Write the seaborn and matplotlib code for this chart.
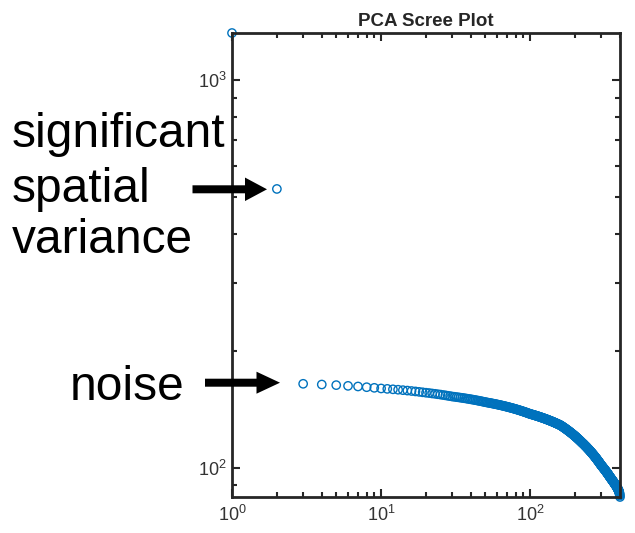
import numpy as np
import pandas as pd
import matplotlib
matplotlib.use("Agg")
import matplotlib.pyplot as plt
from matplotlib.patches import FancyArrow
from matplotlib.ticker import LogLocator
import seaborn as sns

# ---- data (eigenvalues) ----
eigenvalues = [
    1320, 523, 164.5, 163.8, 163.2, 162.5, 161.9, 161.2, 160.6, 160.0,
    159.6, 159.2, 158.8, 158.4, 158.0, 157.6, 157.2, 156.8, 156.4, 156.0,
    155.7, 155.3, 155.0, 154.6, 154.3, 153.9, 153.6, 153.2, 152.9, 152.5,
    152.3, 152.0, 151.8, 151.5, 151.3, 151.0, 150.8, 150.5, 150.3, 150.0,
    149.8, 149.5, 149.3, 149.0, 148.8, 148.5, 148.3, 148.0, 147.8, 147.5,
    147.3, 147.1, 146.9, 146.7, 146.5, 146.3, 146.1, 145.9, 145.7, 145.5,
    145.3, 145.1, 144.9, 144.7, 144.5, 144.3, 144.1, 143.9, 143.7, 143.5,
    143.3, 143.1, 142.9, 142.7, 142.5, 142.3, 142.1, 141.9, 141.7, 141.5,
    141.3, 141.1, 140.9, 140.7, 140.5, 140.3, 140.1, 139.9, 139.7, 139.5,
    139.3, 139.1, 138.9, 138.7, 138.5, 138.3, 138.1, 137.9, 137.7, 137.5,
    137.4, 137.2, 137.1, 136.9, 136.8, 136.6, 136.5, 136.3, 136.2, 136.0,
    135.9, 135.7, 135.6, 135.4, 135.3, 135.1, 135.0, 134.8, 134.7, 134.5,
    134.4, 134.2, 134.1, 133.9, 133.8, 133.6, 133.5, 133.3, 133.2, 133.0,
    132.9, 132.7, 132.6, 132.4, 132.3, 132.1, 132.0, 131.8, 131.7, 131.5,
    131.4, 131.2, 131.1, 130.9, 130.8, 130.6, 130.5, 130.3, 130.2, 130.0,
    129.9, 129.7, 129.6, 129.4, 129.3, 129.1, 129.0, 128.8, 128.7, 128.5,
    128.3, 128.1, 127.9, 127.7, 127.5, 127.3, 127.1, 126.9, 126.7, 126.5,
    126.3, 126.1, 125.9, 125.7, 125.5, 125.3, 125.1, 124.9, 124.7, 124.5,
    124.3, 124.1, 123.9, 123.7, 123.5, 123.3, 123.1, 122.9, 122.7, 122.5,
    122.3, 122.1, 121.9, 121.7, 121.5, 121.3, 121.1, 120.9, 120.7, 120.5,
    120.3, 120.1, 119.9, 119.7, 119.5, 119.3, 119.1, 118.9, 118.7, 118.5,
    118.3, 118.1, 117.9, 117.7, 117.5, 117.3, 117.1, 116.9, 116.7, 116.5,
    116.3, 116.1, 115.9, 115.7, 115.5, 115.4, 115.2, 115.0, 114.8, 114.6,
    114.4, 114.2, 114.0, 113.8, 113.6, 113.5, 113.3, 113.1, 112.9, 112.7,
    112.5, 112.3, 112.1, 111.9, 111.7, 111.6, 111.4, 111.2, 111.0, 110.8,
    110.6, 110.4, 110.2, 110.0, 109.8, 109.7, 109.5, 109.3, 109.1, 108.9,
    108.7, 108.5, 108.3, 108.1, 107.9, 107.8, 107.6, 107.4, 107.2, 107.0,
    106.8, 106.6, 106.4, 106.2, 106.0, 105.9, 105.7, 105.5, 105.3, 105.1,
    104.9, 104.7, 104.5, 104.3, 104.1, 104.0, 103.8, 103.6, 103.4, 103.2,
    103.0, 102.8, 102.6, 102.4, 102.2, 102.1, 101.9, 101.7, 101.5, 101.3,
    101.1, 101.0, 100.8, 100.7, 100.5, 100.4, 100.2, 100.0, 99.9, 99.7,
    99.6, 99.4, 99.3, 99.1, 99.0, 98.8, 98.6, 98.5, 98.3, 98.2,
    98.0, 97.9, 97.7, 97.5, 97.4, 97.2, 97.1, 96.9, 96.8, 96.6,
    96.4, 96.3, 96.1, 96.0, 95.8, 95.6, 95.5, 95.3, 95.2, 95.0,
    94.8, 94.7, 94.5, 94.4, 94.2, 94.1, 93.9, 93.8, 93.6, 93.5,
    93.4, 93.2, 93.1, 92.9, 92.8, 92.6, 92.5, 92.4, 92.2, 92.1,
    92.0, 91.8, 91.7, 91.5, 91.4, 91.2, 91.1, 91.0, 90.8, 90.7,
    90.6, 90.4, 90.3, 90.1, 90.0, 89.8, 89.7, 89.6, 89.4, 89.3,
    89.1, 88.9, 88.8, 88.6, 88.4, 88.3, 88.1, 87.9, 87.8, 87.6,
    87.4, 87.2, 87.0, 86.8, 86.5, 86.2, 85.8, 85.3, 84.7, 84.0,
]
component = list(range(1, len(eigenvalues) + 1))
title_text = "PCA Scree Plot"
signal_label = ["significant", "spatial", "variance"]
noise_label = "noise"

df = pd.DataFrame({"component": component, "eigenvalue": eigenvalues})

# ---- style ----
sns.set_style("white")
plt.rcParams["font.family"] = ["Liberation Sans", "DejaVu Sans"]
plt.rcParams["mathtext.fontset"] = "custom"
plt.rcParams["mathtext.rm"] = "Liberation Sans"
plt.rcParams["mathtext.it"] = "Liberation Sans:italic"
plt.rcParams["mathtext.bf"] = "Liberation Sans:bold"

W, H = 635, 533
fig = plt.figure(figsize=(W / 100, H / 100), dpi=100)
ax = fig.add_axes([232 / W, (H - 497) / H, 388 / W, 464 / H])

blue = "#0072BD"
axcol = "#262626"
sns.scatterplot(data=df, x="component", y="eigenvalue", ax=ax,
                marker="o", s=36, color=blue, linewidth=1.0, legend=False)
coll = ax.collections[0]
coll.set_facecolor("none")
coll.set_edgecolor(blue)
coll.set_clip_on(False)

ax.set_xscale("log")
ax.set_yscale("log")
ax.set_xlim(min(component), max(component))
ax.set_ylim(min(eigenvalues), max(eigenvalues))
ax.xaxis.set_minor_locator(LogLocator(base=10, subs=np.arange(2, 10), numticks=20))
ax.yaxis.set_minor_locator(LogLocator(base=10, subs=np.arange(2, 10), numticks=20))

ax.set_xlabel("")
ax.set_ylabel("")
for sp in ax.spines.values():
    sp.set_visible(True)
    sp.set_color(axcol)
    sp.set_linewidth(2.0)
ax.tick_params(which="both", direction="in", top=True, right=True,
               bottom=True, left=True, color=axcol, width=1.5,
               labelcolor="#333333", labelsize=13)
ax.tick_params(which="major", length=5.5)
ax.tick_params(which="minor", length=3.5)
ax.tick_params(axis="x", which="major", pad=6)
ax.tick_params(axis="y", which="major", pad=4)
ax.set_title(title_text, fontsize=13.5, fontweight="bold", color=axcol, pad=5)

# ---- annotations (figure pixel positions) ----
def fx(px):
    return px / W

def fy(py):
    return (H - py) / H

fs = 34.5
baselines = [146.7, 201.7, 253.3]
for line, b in zip(signal_label, baselines):
    fig.text(fx(12), fy(b), line, fontsize=fs, va="baseline", ha="left", color="black")
fig.text(fx(70), fy(400), noise_label, fontsize=fs, va="baseline", ha="left", color="black")

def add_arrow(x0, x1, yc, head_len, head_h, shaft=8):
    arr = FancyArrow(x0 / 100, (H - yc) / 100, (x1 - x0) / 100, 0,
                     width=shaft / 100, head_width=head_h / 100,
                     head_length=head_len / 100, length_includes_head=True,
                     transform=fig.dpi_scale_trans, color="black", lw=0)
    fig.add_artist(arr)

add_arrow(192.5, 267, 189.3, 22, 23.5)
add_arrow(205, 280, 382.7, 23.5, 22)

fig.savefig("out.png", dpi=100)
